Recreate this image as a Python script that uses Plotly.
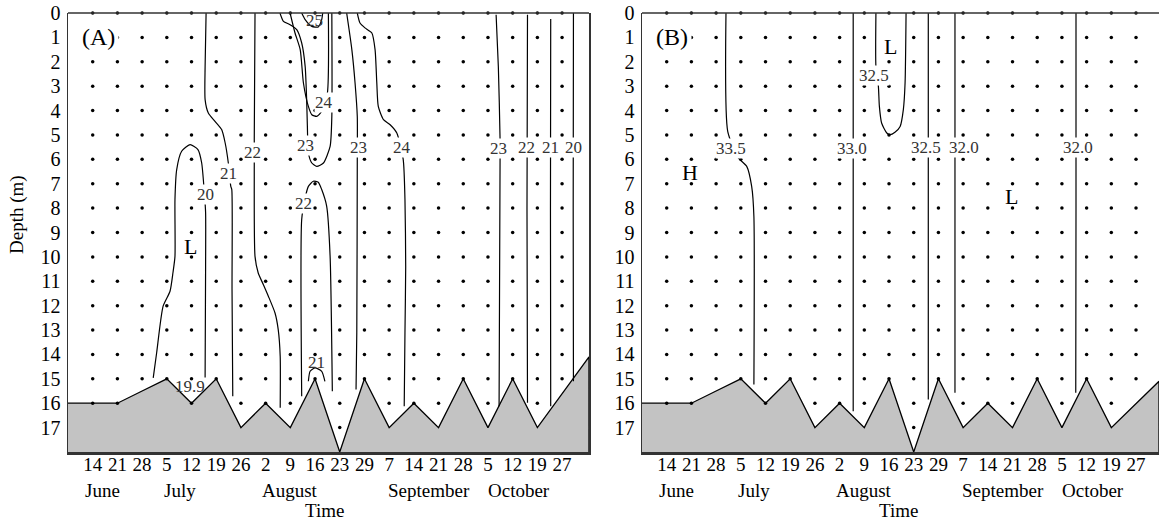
import plotly.graph_objects as go

# ---------------- data ----------------
stations = list(range(20))
tick_days = ["14", "21", "28", "5", "12", "19", "26", "2", "9", "16",
             "23", "29", "7", "14", "21", "28", "5", "12", "19", "27"]
months = ["June", "July", "August", "September", "October"]
month_pos = [0.4, 3.55, 8.0, 13.6, 17.25]
depth_ticks = list(range(18))

# bottom depth (m) at stations 0..18, and at the right edge of each panel
bottom_depth = [16, 16, 15.5, 15, 16, 15, 17, 16, 17, 15, 18, 15, 17, 16, 17, 15, 17, 15, 17]
edge_x_A, edge_depth_A = 20.09, 14.1
edge_x_B, edge_depth_B = 19.93, 15.1
# deepest sampled depth per station
sample_max = [16, 16, 15, 15, 16, 15, 16, 16, 16, 15, 17, 15, 16, 16, 16, 15, 16, 15, 16, 15]

# ---- (A) temperature isolines (x = station position, d = depth) ----
t20a_x = [2.45, 2.59, 2.85, 3.13, 3.25, 3.33, 3.33, 3.40, 3.60, 3.94, 4.26, 4.41, 4.51, 4.57, 4.57, 4.55]
t20a_d = [14.96, 13.92, 12.02, 11.41, 10.64, 9.98, 7.65, 6.42, 5.67, 5.40, 5.60, 6.14, 7.24, 8.18, 10.39, 14.95]
t21a_x = [4.59, 4.55, 4.55, 4.68, 4.95, 5.22, 5.36, 5.49, 5.59, 5.63, 5.64, 5.67]
t21a_d = [0, 2.19, 3.55, 4.10, 4.44, 4.78, 5.32, 6.15, 7.11, 7.24, 11.34, 15.71]
t22a_x = [6.57, 6.54, 6.54, 6.57, 6.70, 6.91, 7.11, 7.38, 7.51, 7.59, 7.59]
t22a_d = [0, 5.19, 6.15, 9.98, 10.66, 11.14, 11.61, 12.30, 12.98, 14.07, 16.19]
t23a_x = [7.58, 7.72, 7.99, 8.26, 8.46, 8.60, 8.66, 8.69, 8.73, 8.87, 9.07, 9.34, 9.61, 9.68, 9.68]
t23a_d = [0, 0.34, 0.48, 0.68, 1.23, 2.19, 3.55, 4.65, 5.74, 6.15, 6.29, 6.15, 5.47, 4.24, 0]
t24a_x = [7.99, 8.19, 8.40, 8.53, 8.73, 8.87, 9.07, 9.27, 9.50, 9.54]
t24a_d = [0, 0.82, 1.50, 2.87, 3.83, 4.17, 4.24, 4.03, 3.28, 0]
t25_x = [8.46, 8.60, 8.87, 9.13, 9.27, 9.31]
t25_d = [0, 0.27, 0.55, 0.57, 0.27, 0]
t22b_x = [8.46, 8.46, 8.60, 8.73, 8.93, 9.13, 9.27, 9.47, 9.61, 9.70]
t22b_d = [15.71, 8.47, 7.58, 7.11, 6.90, 6.94, 7.24, 7.92, 9.98, 15.51]
t21b_x = [8.73, 8.80, 9.00, 9.27, 9.40]
t21b_d = [15.10, 14.69, 14.55, 14.69, 15.10]
t23b_x = [10.28, 10.49, 10.62, 10.71, 10.71, 10.69, 10.66]
t23b_d = [0, 1.50, 2.87, 4.24, 6.01, 13.11, 15.44]
t24b_x = [10.71, 10.82, 11.02, 11.30, 11.43, 11.50, 11.56, 11.77, 12.04, 12.31, 12.57, 12.64, 12.67, 12.64, 12.61]
t24b_d = [0, 0.41, 0.61, 0.82, 1.50, 2.87, 3.83, 4.37, 4.58, 4.92, 6.01, 7.65, 10.39, 13.11, 16.12]
t23c_x = [16.33, 16.42, 16.49, 16.49, 16.45]
t23c_d = [0.07, 2.19, 5.19, 5.93, 16.12]
t22c_x = [17.60, 17.58, 17.60]
t22c_d = [0.07, 8.0, 15.98]
t21c_x = [18.54, 18.53, 18.54]
t21c_d = [0.25, 8.0, 16.12]
t20c_x = [19.46, 19.45, 19.46]
t20c_d = [0.0, 8.0, 15.10]

# labels on panel (A): text, x, depth, white background
temp_label_text = ["20", "21", "22", "23", "24", "25", "22", "21", "23", "24", "23", "22", "21", "20", "19.9"]
temp_label_x = [4.56, 5.49, 6.45, 8.61, 9.36, 8.96, 8.53, 9.07, 10.75, 12.51, 16.42, 17.57, 18.53, 19.46, 3.94]
temp_label_d = [7.45, 6.57, 5.70, 5.42, 3.66, 0.30, 7.80, 14.34, 5.50, 5.50, 5.57, 5.50, 5.50, 5.50, 15.31]
temp_label_bg = [True, True, True, True, True, False, True, False, True, True, True, True, True, True, False]

# ---- (B) salinity isolines ----
s335_x = [2.40, 2.47, 2.90, 3.24, 3.44, 3.53, 3.53]
s335_d = [0, 4.85, 5.94, 6.29, 7.11, 8.34, 15.23]
s330_x = [7.55, 7.55, 7.55]
s330_d = [0, 8.0, 16.33]
s325a_x = [8.47, 8.47, 8.57, 8.61, 8.70, 8.91, 9.04, 9.24, 9.45, 9.58, 9.65, 9.69]
s325a_d = [0, 2.19, 3.01, 3.83, 4.51, 4.92, 4.99, 4.89, 4.65, 3.96, 2.87, 0]
s325b_x = [10.59, 10.59, 10.59]
s325b_d = [0, 8.0, 15.85]
s320a_x = [11.67, 11.67, 11.67]
s320a_d = [0, 8.0, 15.57]
s320b_x = [16.57, 16.57, 16.56]
s320b_d = [0, 8.0, 15.57]

sal_label_text = ["33.5", "33.0", "32.5", "32.5", "32.0", "32.0"]
sal_label_x = [2.60, 7.49, 8.40, 10.49, 12.02, 16.64]
sal_label_d = [5.56, 5.56, 2.56, 5.52, 5.52, 5.52]

# extremum markers
temp_marks = ["L"]
temp_marks_x = [3.94]
temp_marks_d = [9.56]
sal_marks = ["L", "H", "L"]
sal_marks_x = [9.04, 0.94, 13.97]
sal_marks_d = [1.37, 6.56, 7.52]
sal_marks_bg = [True, False, False]

panel_names = ["(A)", "(B)"]

# ---------------- figure ----------------
FONT = "Liberation Serif"
W, H = 1159, 529
fig = go.Figure()

temp_lines = [(t20a_x, t20a_d), (t21a_x, t21a_d), (t22a_x, t22a_d), (t23a_x, t23a_d),
              (t24a_x, t24a_d), (t25_x, t25_d), (t22b_x, t22b_d), (t21b_x, t21b_d),
              (t23b_x, t23b_d), (t24b_x, t24b_d), (t23c_x, t23c_d), (t22c_x, t22c_d),
              (t21c_x, t21c_d), (t20c_x, t20c_d)]
sal_lines = [(s335_x, s335_d), (s330_x, s330_d), (s325a_x, s325a_d), (s325b_x, s325b_d),
             (s320a_x, s320a_d), (s320b_x, s320b_d)]

panels = [
    ("x", "y", edge_x_A, edge_depth_A, temp_lines),
    ("x2", "y2", edge_x_B, edge_depth_B, sal_lines),
]

for xa, ya, ex, ed, lines in panels:
    # sea bottom
    bx = [-1] + stations[:len(bottom_depth)] + [ex, ex, -1]
    by = [16] + bottom_depth + [ed, 18.5, 18.5]
    fig.add_trace(go.Scatter(x=bx, y=by, mode="lines", fill="toself",
                             fillcolor="#c3c3c3", line=dict(color="black", width=1.3),
                             xaxis=xa, yaxis=ya, showlegend=False, hoverinfo="skip"))
    # isolines
    for lx, ld in lines:
        fig.add_trace(go.Scatter(x=lx, y=ld, mode="lines",
                                 line=dict(color="black", width=1.2, shape="spline", smoothing=0.6),
                                 xaxis=xa, yaxis=ya, showlegend=False, hoverinfo="skip"))
    # sampling points
    dx, dy = [], []
    for s, m in zip(stations, sample_max):
        for d in range(0, m + 1):
            dx.append(s)
            dy.append(d)
    fig.add_trace(go.Scatter(x=dx, y=dy, mode="markers", marker=dict(color="black", size=3.5),
                             xaxis=xa, yaxis=ya, showlegend=False, hoverinfo="skip", cliponaxis=False))

annotations = []


def lab(text, x, d, xref, yref, size, bg=True, color="#333", pad=0):
    annotations.append(dict(text=text, x=x, y=d, xref=xref, yref=yref, showarrow=False,
                            xanchor="center", yanchor="middle",
                            font=dict(family=FONT, size=size, color=color),
                            bgcolor="white" if bg else "rgba(0,0,0,0)", borderpad=pad))


for t, x, d, bg in zip(temp_label_text, temp_label_x, temp_label_d, temp_label_bg):
    lab(t, x, d, "x", "y", 17, bg)
for t, x, d in zip(sal_label_text, sal_label_x, sal_label_d):
    lab(t, x, d, "x2", "y2", 17, True)
for t, x, d in zip(temp_marks, temp_marks_x, temp_marks_d):
    lab(t, x, d, "x", "y", 22, False, "black")
for t, x, d, bg in zip(sal_marks, sal_marks_x, sal_marks_d, sal_marks_bg):
    lab(t, x, d, "x2", "y2", 22, bg, "black")
lab(panel_names[0], 0.23, 0.97, "x", "y", 24, True, "black", 3)
lab(panel_names[1], 0.20, 0.97, "x2", "y2", 24, True, "black", 3)

# month labels and axis titles
for xr, yr in [("x", "y domain"), ("x2", "y2 domain")]:
    for m, p in zip(months, month_pos):
        annotations.append(dict(text=m, x=p, y=0, xref=xr, yref=yr, yshift=-38, showarrow=False,
                                xanchor="center", yanchor="middle",
                                font=dict(family=FONT, size=19, color="black")))
    annotations.append(dict(text="Time", x=9.4, y=0, xref=xr, yref=yr, yshift=-58, showarrow=False,
                            xanchor="center", yanchor="middle",
                            font=dict(family=FONT, size=19, color="black")))
annotations.append(dict(text="Depth (m)", x=17 / W, y=0.54, xref="paper", yref="y domain",
                        xanchor="center", yanchor="middle",
                        textangle=-90, showarrow=False, font=dict(family=FONT, size=19, color="black")))

shapes = [
    dict(type="line", xref="x domain", yref="y domain", x0=0, x1=1, y0=1, y1=1,
         line=dict(color="#333", width=1.5)),
    dict(type="line", xref="x2 domain", yref="y2 domain", x0=0, x1=1, y0=1, y1=1,
         line=dict(color="#333", width=1.5)),
]

xcommon = dict(tickmode="array", tickvals=stations, ticktext=tick_days, showgrid=False, zeroline=False,
               showline=True, linecolor="#333", linewidth=2.5, ticks="", ticklen=0, ticklabelstandoff=-6,
               automargin=False, ticklabeloverflow="allow",
               tickfont=dict(family=FONT, size=19, color="black"))
ycommon = dict(tickmode="array", tickvals=depth_ticks, ticktext=[str(v) for v in depth_ticks],
               range=[18, 0], showgrid=False, zeroline=False, showline=True, linecolor="#333",
               linewidth=1.5, ticks="", ticklen=0, ticklabelstandoff=2, automargin=False,
               ticklabeloverflow="allow", tickfont=dict(family=FONT, size=20, color="black"))

fig.update_layout(
    width=W, height=H, margin=dict(l=0, r=0, t=13, b=H - 452, autoexpand=False),
    paper_bgcolor="white", plot_bgcolor="white",
    xaxis=dict(domain=[68 / W, 589 / W], range=[-1, edge_x_A], anchor="y", **xcommon),
    yaxis=dict(anchor="x", mirror=True, **ycommon),
    xaxis2=dict(domain=[642 / W, 1.0], range=[-1, edge_x_B], anchor="y2", **xcommon),
    yaxis2=dict(anchor="x2", mirror=False, **ycommon),
    annotations=annotations, shapes=shapes,
    font=dict(family=FONT),
)

fig.write_html("out.html", config={"displayModeBar": False, "staticPlot": True},
               post_script="document.body.style.margin='0px';")
